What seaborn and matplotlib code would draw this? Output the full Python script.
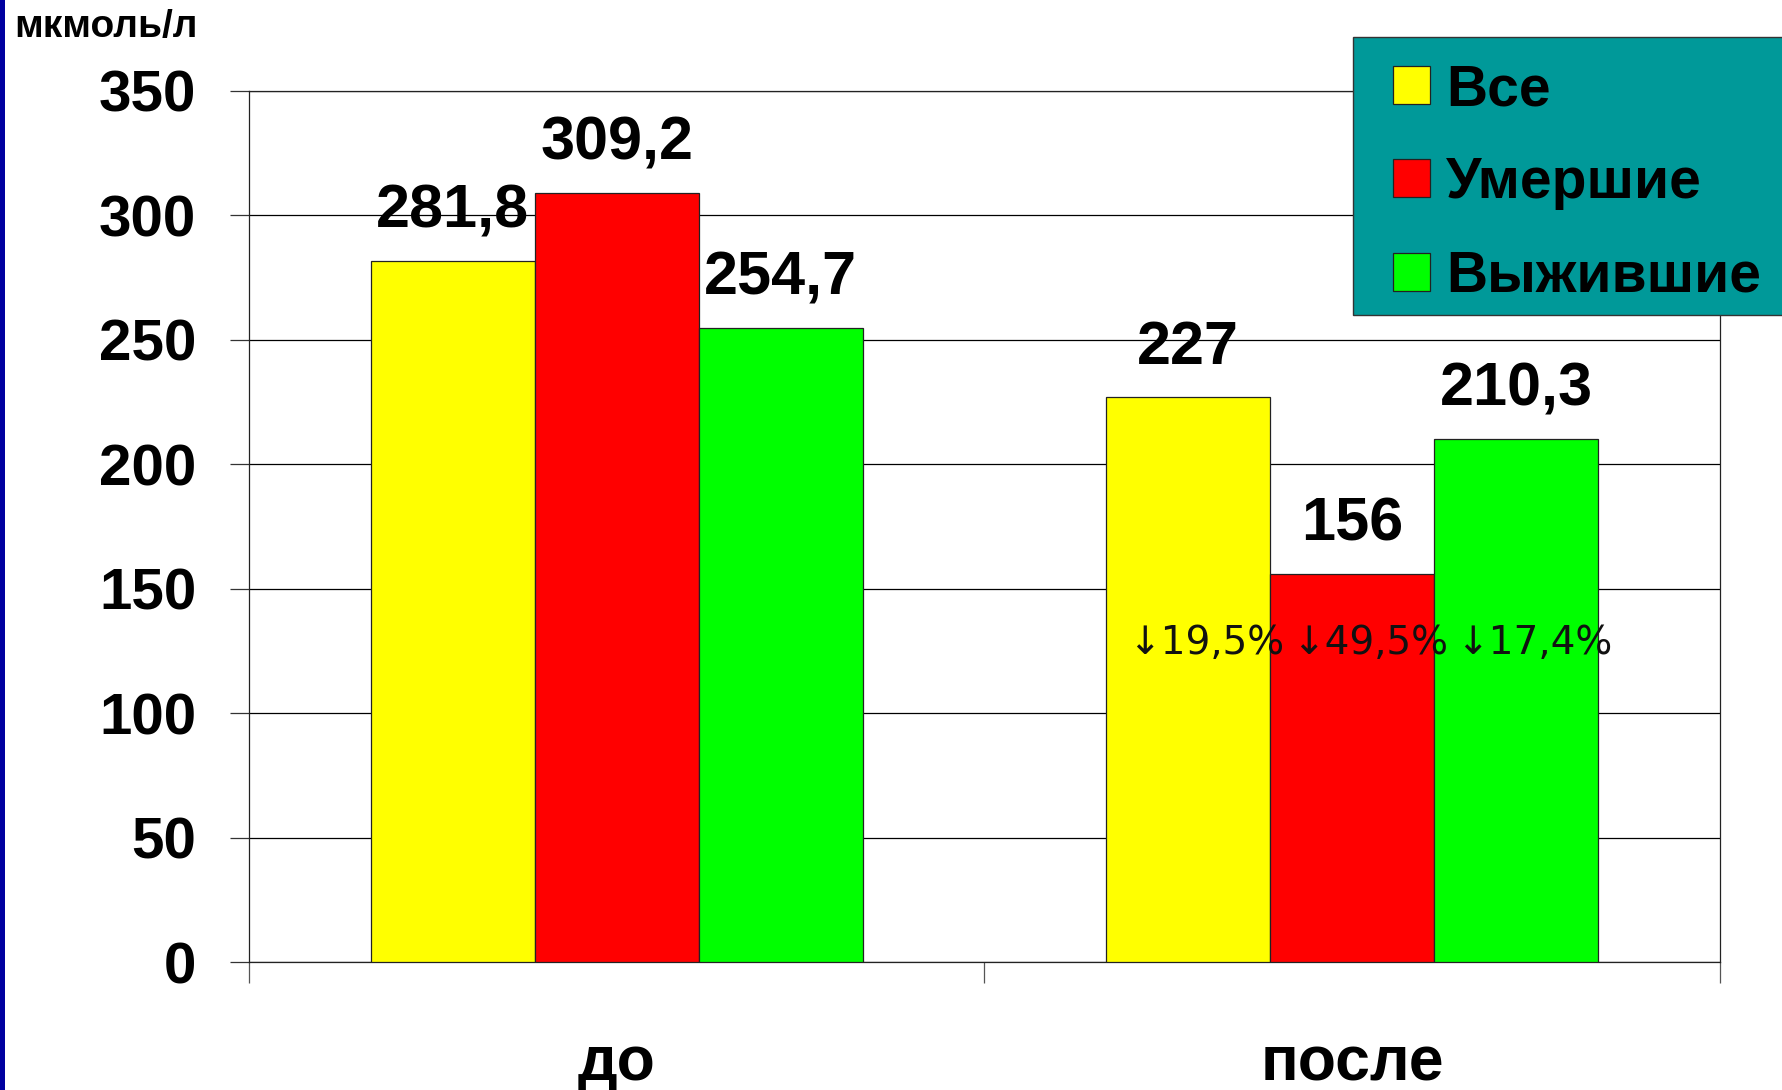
import matplotlib
matplotlib.use("Agg")
import matplotlib.pyplot as plt
from matplotlib.patches import Rectangle, Patch
import seaborn as sns
import pandas as pd

# Data
periods = ["до", "после"]
groups = ["Все", "Умершие", "Выжившие"]
vals_all = [281.8, 227]
vals_dead = [309.2, 156]
vals_alive = [254.7, 210.3]
change_labels = ["↓19,5%", "↓49,5%", "↓17,4%"]
unit_label = "мкмоль/л"
yticks = [0, 50, 100, 150, 200, 250, 300, 350]
colors = ["#FFFF00", "#FF0000", "#00FF00"]

df = pd.DataFrame({
    "period": periods * 3,
    "group": [g for g in groups for _ in periods],
    "value": vals_all + vals_dead + vals_alive,
})

sns.set_theme(style="white")
plt.rcParams["font.family"] = ["Liberation Sans", "DejaVu Sans"]
plt.rcParams["text.color"] = "black"
plt.rcParams["xtick.color"] = "black"
plt.rcParams["ytick.color"] = "black"
plt.rcParams["axes.labelcolor"] = "black"

W, H, DPI = 1783, 1090, 100
fig = plt.figure(figsize=(W / DPI, H / DPI), dpi=DPI)
ax = fig.add_axes([249 / W, 1 - 962 / H, (1720 - 249) / W, (962 - 91) / H])

sns.barplot(data=df, x="period", y="value", hue="group", order=periods,
            hue_order=groups, palette=colors, width=0.669, saturation=1,
            edgecolor="#222222", linewidth=0.9, legend=False, ax=ax, zorder=3)

ax.set_xlim(-0.5, 1.5)
ax.set_ylim(0, 350)
ax.set_yticks(yticks)
ax.set_yticklabels([str(t) for t in yticks], fontsize=42, fontweight="bold",
                   color="black")
ax.yaxis.grid(True, color="black", linewidth=0.9, zorder=0)
ax.set_axisbelow(True)
ax.tick_params(axis="y", length=14, width=0.9, color="#333333", pad=24, left=True)

# category labels, boundary ticks below the axis
ax.set_xticks([0, 1])
ax.set_xticklabels(periods, fontsize=45, fontweight="bold", color="black")
ax.tick_params(axis="x", which="major", length=0, pad=52)
ax.set_xticks([-0.5, 0.5, 1.5], minor=True)
ax.tick_params(axis="x", which="minor", length=15, width=0.9, color="#555555",
               bottom=True)
ax.set_xlabel("")
ax.set_ylabel("")

for side in ["left", "bottom", "right", "top"]:
    ax.spines[side].set_visible(True)
    ax.spines[side].set_color("#222222")
    ax.spines[side].set_linewidth(0.9)

# value labels above bars
for cont in ax.containers:
    for bar in cont:
        v = bar.get_height()
        txt = f"{v:g}".replace(".", ",")
        ax.annotate(txt, (bar.get_x() + bar.get_width() / 2, v),
                    xytext=(0, 24), textcoords="offset points",
                    ha="center", va="baseline", fontsize=44,
                    fontweight="bold", color="black", zorder=5)

# relative change for the second period
for cont, lab in zip(ax.containers, change_labels):
    bar = cont[1]
    ax.annotate(lab, (bar.get_x() + bar.get_width() / 2, 128),
                xytext=(13, 0), textcoords="offset points",
                ha="center", va="center", fontsize=28,
                family=["DejaVu Sans"], color="#111111", zorder=6)

# legend panel
fig.patches.append(Rectangle((1353 / W, 1 - 315 / H), (W - 1353 + 10) / W,
                             (315 - 37) / H, transform=fig.transFigure,
                             facecolor="#009999", edgecolor="#333333",
                             linewidth=1.0, zorder=1))
handles = [Patch(facecolor=c, edgecolor="#222222", linewidth=0.9) for c in colors]
leg = fig.legend(handles, groups, loc="upper left",
                 bbox_to_anchor=(1393 / W, 1 - 63 / H), borderaxespad=0,
                 prop={"family": "Liberation Sans", "weight": "bold", "size": 41},
                 handlelength=0.65, handleheight=0.65, handletextpad=0.28,
                 labelspacing=0.69, borderpad=0, frameon=False)
for t in leg.get_texts():
    t.set_color("black")

# unit caption
fig.text(14 / W, 1 - 27 / H, unit_label, fontsize=28, fontweight="bold",
         ha="left", va="center")

# left edge strip
fig.patches.append(Rectangle((0, 0), 5 / W, 1, transform=fig.transFigure,
                             facecolor="#0000A0", edgecolor="none", zorder=10))

fig.savefig("out.png", dpi=DPI)
